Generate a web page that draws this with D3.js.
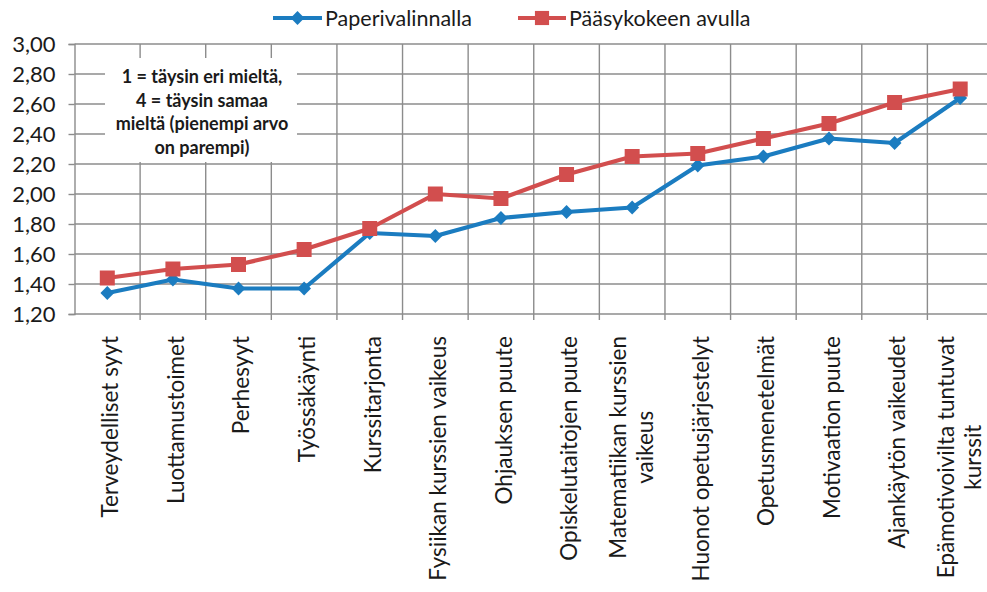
<!DOCTYPE html>
<html>
<head>
<meta charset="utf-8">
<script src="https://cdn.jsdelivr.net/npm/d3@7"></script>
<style>
  body { margin: 0; background: #fff; }
  text { font-family: Lato, "Open Sans", sans-serif; fill: #1a1a1a; }
</style>
</head>
<body>
<div id="chart"></div>
<script>
// categories, each one a list of label lines
let categories = [
    ["Terveydelliset syyt"],
    ["Luottamustoimet"],
    ["Perhesyyt"],
    ["Työssäkäynti"],
    ["Kurssitarjonta"],
    ["Fysiikan kurssien vaikeus"],
    ["Ohjauksen puute"],
    ["Opiskelutaitojen puute"],
    ["Matematiikan kurssien", "vaikeus"],
    ["Huonot opetusjärjestelyt"],
    ["Opetusmenetelmät"],
    ["Motivaation puute"],
    ["Ajankäytön vaikeudet"],
    ["Epämotivoivilta tuntuvat", "kurssit"]
];
let paperivalinnalla = [1.34, 1.43, 1.37, 1.37, 1.74, 1.72, 1.84, 1.88, 1.91, 2.19, 2.25, 2.37, 2.34, 2.64];
let paasykokeen = [1.44, 1.50, 1.53, 1.63, 1.77, 2.00, 1.97, 2.13, 2.25, 2.27, 2.37, 2.47, 2.61, 2.70];
let yTicks = [1.2, 1.4, 1.6, 1.8, 2.0, 2.2, 2.4, 2.6, 2.8, 3.0];
let seriesNames = ["Paperivalinnalla", "Pääsykokeen avulla"];
let noteLines = ["1 = täysin eri mieltä,", "4 = täysin samaa", "mieltä (pienempi arvo", "on parempi)"];

let margin = {top: 44, left: 74.5};
let plotW = 918.5;
let plotH = 270;
let blue = "#1b7cc0";
let red = "#d24e4e";
let grid = "#8c8c8c";

let svg = d3.select("#chart")
    .append("svg")
        .attr("width", 987)
        .attr("height", 592);

let names = categories.map(function(c) { return c.join(" "); });

// X scale
let x = d3.scaleBand()
    .domain(names)
    .range([margin.left, margin.left + plotW])
    .padding(0);

// Y scale
let y = d3.scaleLinear()
    .domain([1.2, 3.0])
    .range([margin.top + plotH, margin.top]);

let fi = d3.formatLocale({decimal: ",", thousands: " ", grouping: [3], currency: ["", "€"]});
let fmt = fi.format(".2f");

// horizontal gridlines
svg.append("g")
    .selectAll("line")
    .data(yTicks.slice(1))
    .enter()
    .append("line")
        .attr("x1", margin.left)
        .attr("x2", margin.left + plotW)
        .attr("y1", function(d) { return y(d); })
        .attr("y2", function(d) { return y(d); })
        .attr("stroke", grid)
        .attr("stroke-width", 1.4);

// vertical gridlines at category borders
let borders = names.map(function(n) { return x(n) + x.step(); });
svg.append("g")
    .selectAll("line")
    .data(borders)
    .enter()
    .append("line")
        .attr("x1", function(d) { return d; })
        .attr("x2", function(d) { return d; })
        .attr("y1", y(3.0))
        .attr("y2", y(1.2) + 6)
        .attr("stroke", grid)
        .attr("stroke-width", 1.4);

// note box
let note = svg.append("g");
note.append("rect")
    .attr("x", 105)
    .attr("y", 58)
    .attr("width", 192)
    .attr("height", 104)
    .attr("fill", "#fff");
note.selectAll("text")
    .data(noteLines)
    .enter()
    .append("text")
        .attr("x", 202)
        .attr("y", function(d, i) { return 83 + i * 23.7; })
        .attr("text-anchor", "middle")
        .style("font-size", "18px")
        .style("font-weight", "bold")
        .text(function(d) { return d; });

// Y axis
let yAxis = svg.append("g")
    .attr("transform", "translate(" + margin.left + ",0)")
    .call(d3.axisLeft(y).tickValues(yTicks).tickFormat(fmt).tickSize(6).tickPadding(13));
yAxis.select(".domain").attr("stroke", grid).attr("stroke-width", 1.4);
yAxis.selectAll(".tick line").attr("stroke", grid).attr("stroke-width", 1.4);
yAxis.selectAll("text")
    .style("font-size", "22px")
    .style("font-family", "Lato, sans-serif")
    .attr("fill", "#1a1a1a");

// X axis line
svg.append("line")
    .attr("x1", margin.left)
    .attr("x2", margin.left + plotW)
    .attr("y1", y(1.2))
    .attr("y2", y(1.2))
    .attr("stroke", grid)
    .attr("stroke-width", 1.4);

// X labels, rotated
let labels = svg.append("g")
    .selectAll("g")
    .data(categories)
    .enter()
    .append("g")
        .attr("transform", function(d, i) {
            let shift = d.length > 1 ? -0.5 : 3;
            return "translate(" + (x(names[i]) + x.bandwidth() / 2 + shift) + "," + (y(1.2) + 22) + ")rotate(-90)";
        });

labels.each(function(d) {
    let g = d3.select(this);
    let off = (d.length - 1) * 13.5;
    let first = g.append("text")
        .attr("text-anchor", "end")
        .attr("dy", "0.35em")
        .attr("y", -off)
        .style("font-size", "22.5px")
        .text(d[0]);
    if (d.length > 1) {
        let w = first.node().getComputedTextLength();
        g.append("text")
            .attr("text-anchor", "middle")
            .attr("dy", "0.35em")
            .attr("x", -w / 2)
            .attr("y", off)
            .style("font-size", "22.5px")
            .text(d[1]);
    }
});

// lines
let line = d3.line()
    .x(function(d, i) { return x(names[i]) + x.bandwidth() / 2; })
    .y(function(d) { return y(d); });

function drawSeries(values, color, size, rot) {
    svg.append("path")
        .datum(values)
        .attr("fill", "none")
        .attr("stroke", color)
        .attr("stroke-width", 4.2)
        .attr("stroke-linejoin", "round")
        .attr("d", line);
    svg.append("g")
        .selectAll("path")
        .data(values)
        .enter()
        .append("path")
            .attr("d", d3.symbol().type(d3.symbolSquare).size(size))
            .attr("transform", function(d, i) {
                return "translate(" + (x(names[i]) + x.bandwidth() / 2) + "," + y(d) + ")rotate(" + rot + ")";
            })
            .attr("fill", color);
}

drawSeries(paperivalinnalla, blue, 95, 45);
drawSeries(paasykokeen, red, 225, 0);

// Legend
let legend = svg.append("g").attr("transform", "translate(0,18)");
let legendItems = [
    {name: seriesNames[0], color: blue, x0: 273, x1: 322, size: 95, rot: 45},
    {name: seriesNames[1], color: red, x0: 518, x1: 566, size: 200, rot: 0}
];
legendItems.forEach(function(it) {
    legend.append("line")
        .attr("x1", it.x0)
        .attr("x2", it.x1)
        .attr("stroke", it.color)
        .attr("stroke-width", 4);
    legend.append("path")
        .attr("d", d3.symbol().type(d3.symbolSquare).size(it.size))
        .attr("transform", "translate(" + (it.x0 + it.x1) / 2 + ",0)rotate(" + it.rot + ")")
        .attr("fill", it.color);
    legend.append("text")
        .attr("x", it.x1 + 3)
        .attr("dy", "0.35em")
        .style("font-size", "21.5px")
        .text(it.name);
});
</script>
</body>
</html>
